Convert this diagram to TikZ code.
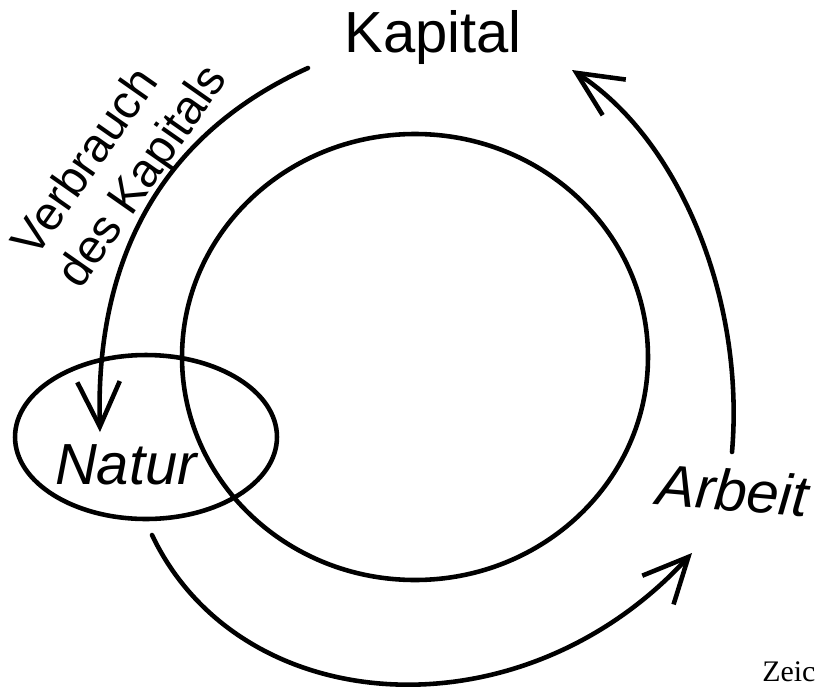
\documentclass[tikz,border=0pt]{standalone}
\usepackage{fontspec}
\setmainfont{Liberation Sans}
\newfontfamily\printfont{Liberation Serif}
\usetikzlibrary{arrows.meta, shapes.geometric}

\begin{document}
\begin{tikzpicture}[
    x=0.02cm, y=-0.02cm,
    ink/.style={draw=black, line width=2.6pt, line cap=round},
    flow/.style={ink, -{Straight Barb[length=9mm, width=8.5mm]}},
    word/.style={font=\fontsize{33}{36}\selectfont, inner sep=0pt},
    handword/.style={inner sep=0pt, font=\fontsize{33}{36}\selectfont\itshape},
    note/.style={font=\fontsize{27}{31}\selectfont, inner sep=0pt, rotate=55, align=left}
]
    \useasboundingbox (0,0) rectangle (818,690);
    \clip (0,0) rectangle (818,690);

    % words
    \node[word] (kapital) at (433,38) {Kapital};
    \node[handword] (natur) at (126,465) {Natur};
    \node[handword, rotate=-5] (arbeit) at (733,490) {Arbeit};
    \node[note] (verbrauch) at (122,162) {Verbrauch\\des Kapitals};
    \node[font=\printfont\fontsize{17}{20}\selectfont, anchor=base west, inner sep=0pt] (zeic) at (762,681) {Zeic};

    % rings
    \node[ink, ellipse, minimum width=5.24cm, minimum height=3.28cm] (ring) at (146,437) {};
    \draw[ink] (415,357) ellipse [x radius=233, y radius=223];

    % ends of the arrows
    \coordinate (kapOut) at (308,68);
    \coordinate (naturIn) at (100,432);
    \coordinate (naturOut) at (152,535);
    \coordinate (arbeitIn) at (692,553);
    \coordinate (arbeitOut) at (732,452);
    \coordinate (kapIn) at (572,70);

    \draw[flow] (kapOut) .. controls (160,135) and (95,260) .. (naturIn);
    \draw[flow] (naturOut) .. controls (240,720) and (520,740) .. (arbeitIn);
    \draw[flow] (arbeitOut) .. controls (745,300) and (680,140) .. (kapIn);
\end{tikzpicture}
\end{document}
